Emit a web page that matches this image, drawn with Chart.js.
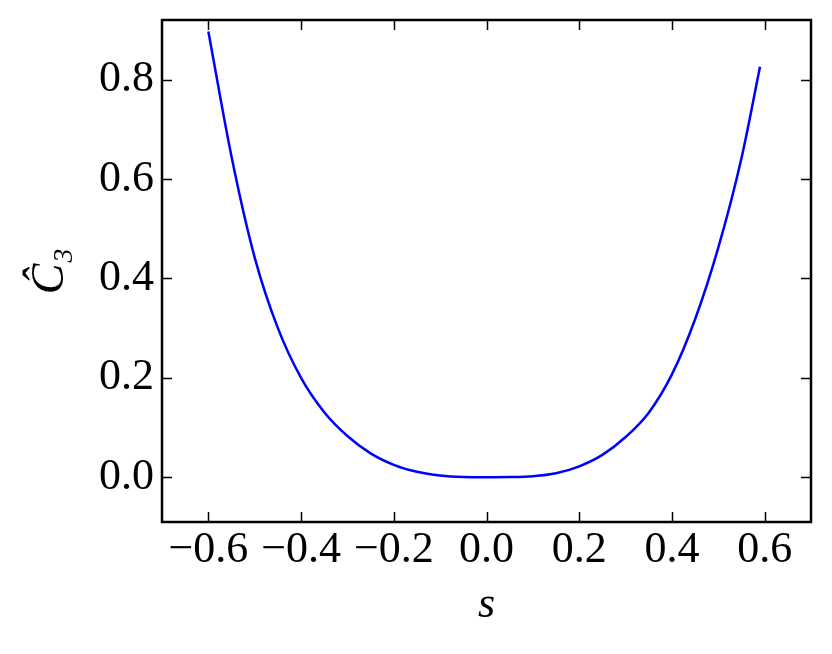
<!DOCTYPE html>
<html>
<head>
<meta charset="utf-8">
<script src="https://cdn.jsdelivr.net/npm/chart.js@4"></script>
<style>
  html, body { margin: 0; padding: 0; background: #fff; }
  #wrap { width: 832px; height: 654px; }
</style>
</head>
<body>
<div id="wrap"><canvas id="c3Chart" width="832" height="654"></canvas></div>
<script>
// values
const sValues = [-0.6, -0.55, -0.5, -0.45, -0.4, -0.35, -0.3, -0.25, -0.2, -0.15, -0.1, -0.05, 0,
  0.05, 0.1, 0.15, 0.2, 0.25, 0.3, 0.35, 0.4, 0.45, 0.5, 0.55, 0.59];
const c3Values = [0.897, 0.645, 0.442, 0.300, 0.200, 0.131, 0.083, 0.048, 0.025, 0.011, 0.0035, 0.0005, 0,
  0.0003, 0.002, 0.008, 0.022, 0.045, 0.081, 0.130, 0.207, 0.318, 0.462, 0.642, 0.826];
const xTicks = [-0.6, -0.4, -0.2, 0.0, 0.2, 0.4, 0.6];
const yTicks = [0.0, 0.2, 0.4, 0.6, 0.8];

const serif = "'Liberation Serif', 'Times New Roman', serif";

function fmt(v) {
  if (Math.abs(v) < 1e-9) return '0.0';
  return (v < 0 ? '\u2212' : '') + Math.abs(v).toFixed(1);
}

// frame + inward ticks on all four sides
const frameTicks = {
  id: 'frameTicks',
  afterDatasetsDraw(chart) {
    const { ctx, chartArea: a, scales } = chart;
    const len = 10;
    ctx.save();
    ctx.strokeStyle = '#000';
    ctx.lineWidth = 1.5;
    ctx.beginPath();
    scales.x.ticks.forEach(t => {
      const px = Math.round(scales.x.getPixelForValue(t.value)) + 0.5;
      ctx.moveTo(px, a.bottom); ctx.lineTo(px, a.bottom - len);
      ctx.moveTo(px, a.top); ctx.lineTo(px, a.top + len);
    });
    scales.y.ticks.forEach(t => {
      const py = Math.round(scales.y.getPixelForValue(t.value)) + 0.5;
      ctx.moveTo(a.left, py); ctx.lineTo(a.left + len, py);
      ctx.moveTo(a.right, py); ctx.lineTo(a.right - len, py);
    });
    ctx.stroke();
    ctx.lineWidth = 2.5;
    ctx.strokeRect(a.left, a.top, a.right - a.left, a.bottom - a.top);
    ctx.restore();
  }
};

new Chart(document.getElementById('c3Chart'), {
  type: 'line',
  data: {
    datasets: [{
      data: sValues.map((s, i) => ({ x: s, y: c3Values[i] })),
      borderColor: '#0000ff',
      borderWidth: 2.5,
      pointRadius: 0,
      cubicInterpolationMode: 'monotone',
      fill: false
    }]
  },
  options: {
    responsive: false,
    animation: false,
    layout: { padding: { top: 20, right: 21, left: 0, bottom: 0 } },
    plugins: { legend: { display: false }, tooltip: { enabled: false } },
    scales: {
      x: {
        type: 'linear',
        min: -0.7,
        max: 0.7,
        afterBuildTicks: s => { s.ticks = xTicks.map(v => ({ value: v })); },
        afterFit: s => { s.height = 132; s.paddingLeft = 0; s.paddingRight = 0; },
        grid: { display: false, drawTicks: false },
        border: { display: false },
        ticks: {
          color: '#000',
          padding: 2,
          maxRotation: 0,
          autoSkip: false,
          font: { family: serif, size: 44, lineHeight: 1.2 },
          callback: v => fmt(v)
        },
        title: {
          display: true,
          text: 's',
          color: '#000',
          padding: { top: 0, bottom: 22 },
          font: { family: serif, size: 44, style: 'italic', lineHeight: 1.2 }
        }
      },
      y: {
        min: -0.09,
        max: 0.92,
        afterBuildTicks: s => { s.ticks = yTicks.map(v => ({ value: v })); },
        afterFit: s => { s.width = 162; s.paddingTop = 0; s.paddingBottom = 0; },
        grid: { display: false, drawTicks: false },
        border: { display: false },
        ticks: {
          color: '#000',
          padding: 8,
          autoSkip: false,
          font: { family: serif, size: 44, lineHeight: 1.2 },
          callback: v => fmt(v)
        },
        title: {
          display: true,
          text: 'Ĉ\u2083',
          color: '#000',
          padding: { top: 23, bottom: 0 },
          font: { family: serif, size: 46, style: 'italic', lineHeight: 1.2 }
        }
      }
    }
  },
  plugins: [frameTicks]
});
</script>
</body>
</html>
